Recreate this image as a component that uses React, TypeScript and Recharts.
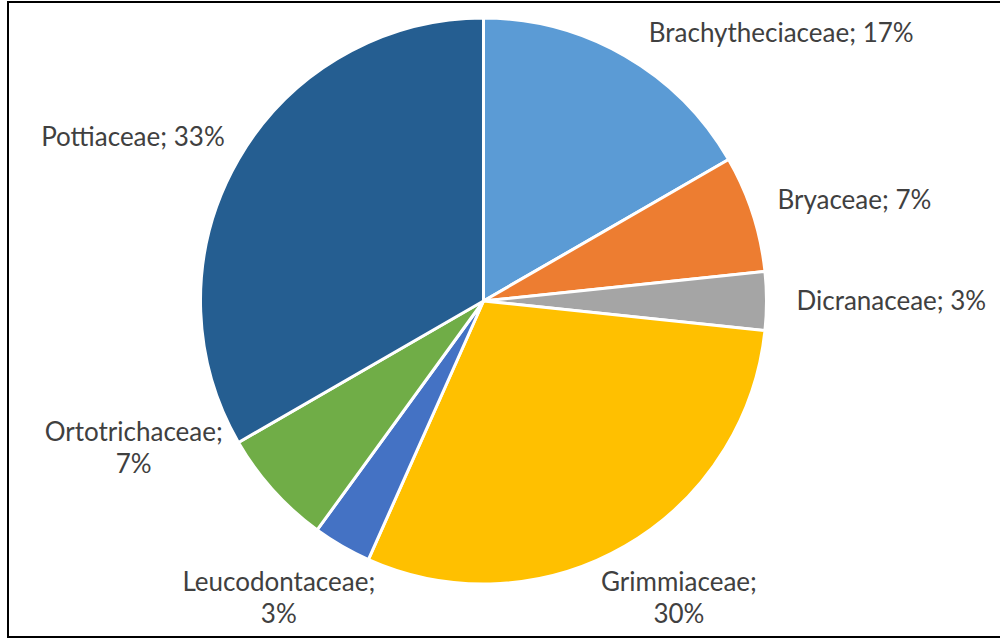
import React from 'react';
import { PieChart, Pie, Cell } from 'recharts';

// Moss families and number of species in each
const families = [
  'Brachytheciaceae',
  'Bryaceae',
  'Dicranaceae',
  'Grimmiaceae',
  'Leucodontaceae',
  'Ortotrichaceae',
  'Pottiaceae',
];
const speciesCounts = [5, 2, 1, 9, 1, 2, 10];
const sliceColors = ['#5B9BD5', '#ED7D31', '#A5A5A5', '#FFC000', '#4472C4', '#70AD47', '#255E91'];

// Labels that Excel moved away from their default spot
const labelNudges: Record<string, [number, number]> = {
  Brachytheciaceae: [75, 15],
  Ortotrichaceae: [-51, -83],
};

const FONT = 'Lato, sans-serif';
const FONT_SIZE = 26;
const LINE_HEIGHT = 32;
const LABEL_GAP = 30;

let measureCtx: CanvasRenderingContext2D | null = null;
function textWidth(s: string) {
  if (!measureCtx) measureCtx = document.createElement('canvas').getContext('2d');
  if (!measureCtx) return s.length * FONT_SIZE * 0.5;
  measureCtx.font = `${FONT_SIZE}px ${FONT}`;
  return measureCtx.measureText(s).width;
}

const renderLabel = (props: any) => {
  const { cx, cy, midAngle, outerRadius, name, percent } = props;
  const rad = Math.PI / 180;
  const ux = Math.cos(-midAngle * rad);
  const uy = Math.sin(-midAngle * rad);
  const r = outerRadius + LABEL_GAP;
  const ax = cx + r * ux;
  const ay = cy + r * uy;
  const pct = `${Math.round(percent * 100)}%`;
  // labels in the lower part get wrapped onto two lines
  const lines = uy > 0.2 ? [`${name};`, pct] : [`${name}; ${pct}`];
  const w = Math.max(...lines.map(textWidth));
  const h = FONT_SIZE * 1.1 + (lines.length - 1) * LINE_HEIGHT;
  const [nx, ny] = labelNudges[name] ?? [0, 0];
  const bx = ax + (ux * w) / 2 + nx;
  const by = ay + (uy * h) / 2 + ny;
  const firstBase = by - ((lines.length - 1) * LINE_HEIGHT) / 2 + FONT_SIZE * 0.35;
  return (
    <text x={bx} y={firstBase} textAnchor="middle" fill="#404040" fontSize={FONT_SIZE} fontFamily={FONT}>
      {lines.map((line, i) => (
        <tspan key={i} x={bx} y={firstBase + i * LINE_HEIGHT}>
          {line}
        </tspan>
      ))}
    </text>
  );
};

export default function App() {
  const data = families.map((name, i) => ({ name, value: speciesCounts[i] }));

  return (
    <div
      style={{
        position: 'absolute',
        left: 0,
        top: 0,
        width: 1000,
        height: 641,
        overflow: 'hidden',
        background: '#fff',
      }}
    >
      <div
        style={{
          position: 'absolute',
          left: 7,
          top: 1,
          width: 1000,
          height: 637,
          border: '2px solid #000',
          boxSizing: 'border-box',
        }}
      />
      <div style={{ position: 'absolute', left: 0, top: 0 }}>
        <PieChart width={1000} height={641} margin={{ top: 0, right: 0, bottom: 0, left: 0 }}>
          <Pie
            data={data}
            dataKey="value"
            nameKey="name"
            cx={483.5}
            cy={301}
            outerRadius={283}
            startAngle={90}
            endAngle={-270}
            stroke="#fff"
            strokeWidth={3}
            label={renderLabel}
            labelLine={false}
            isAnimationActive={false}
          >
            {data.map((d, i) => (
              <Cell key={d.name} fill={sliceColors[i]} />
            ))}
          </Pie>
        </PieChart>
      </div>
    </div>
  );
}
